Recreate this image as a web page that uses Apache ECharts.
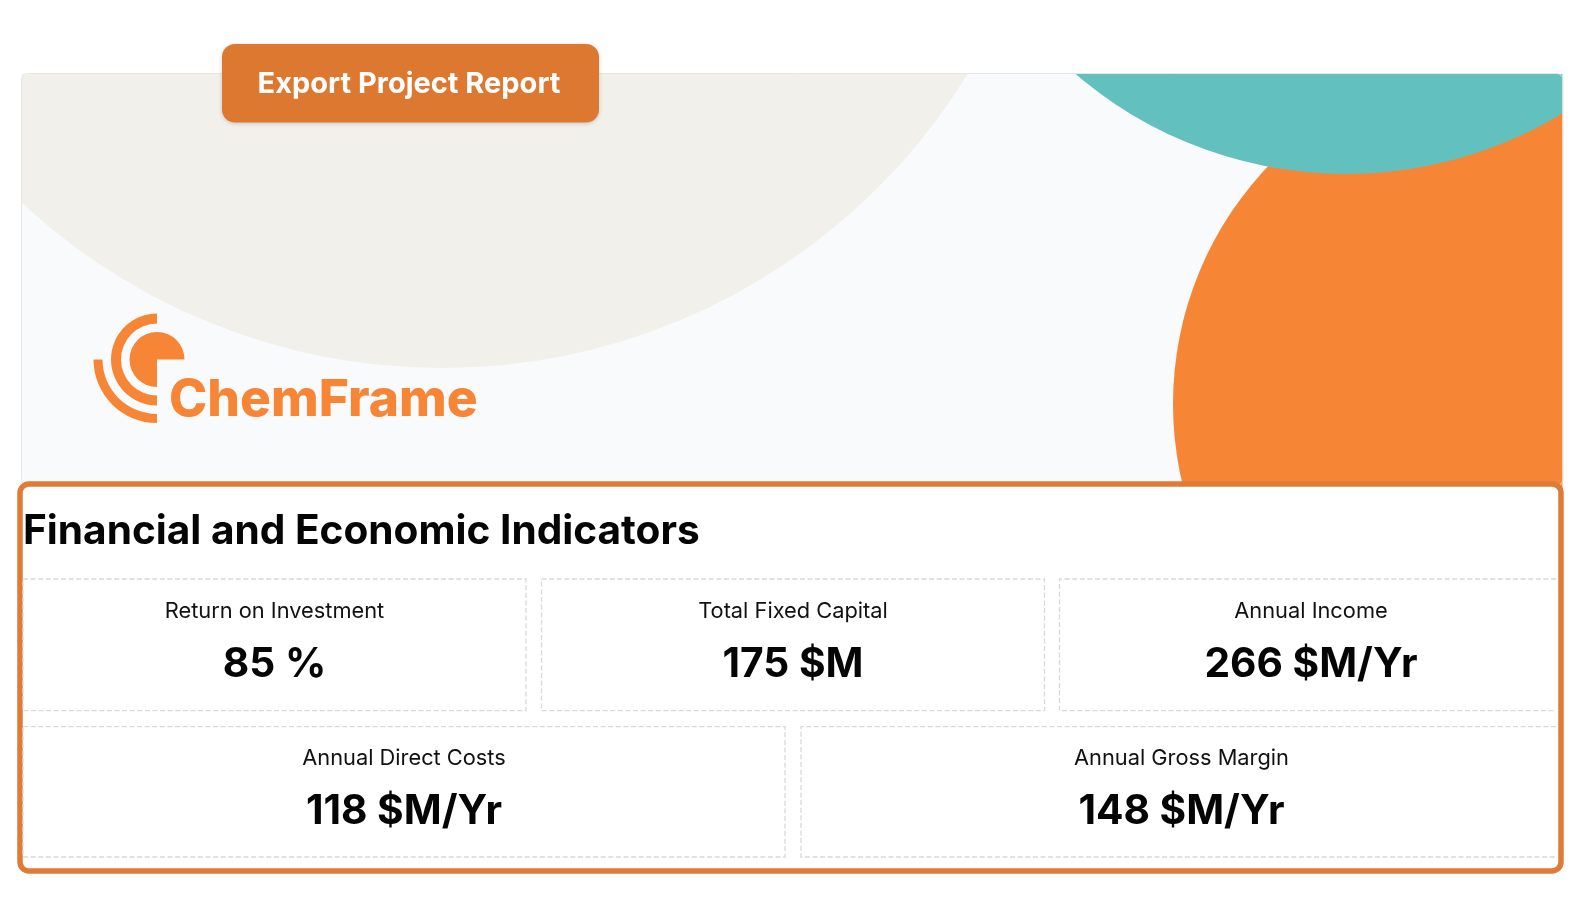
<!DOCTYPE html>
<html><head><meta charset="utf-8">
<style>html,body{margin:0;padding:0;background:#fff}#c{width:1584px;height:921px}</style>
<script src="https://cdn.jsdelivr.net/npm/echarts@6/dist/echarts.min.js"></script>
</head><body><div id="c"></div>
<script>
const buttonLabel = 'Export Project Report';
const brandName = 'ChemFrame';
const panelTitle = 'Financial and Economic Indicators';
const row1Labels = ['Return on Investment', 'Total Fixed Capital', 'Annual Income'];
const row1Values = [85, 175, 266];
const row1Units = ['%', '$M', '$M/Yr'];
const row2Labels = ['Annual Direct Costs', 'Annual Gross Margin'];
const row2Values = [118, 148];
const row2Units = ['$M/Yr', '$M/Yr'];

const FONT = 'Inter, "Noto Sans", sans-serif';
const ORANGE = '#F78536', BORDER = '#DF7B36';
const g = [];
const text = (x, y, t, size, weight, fill, align) => g.push({type:'text', silent:true, style:{
  x, y, text:t, fontSize:size, fontWeight:weight, fontFamily:FONT, fill, textAlign:align||'center', textVerticalAlign:'middle'}});
const circle = (cx, cy, r, fill) => g.push({type:'circle', silent:true, shape:{cx,cy,r}, style:{fill}});
const rect = (x, y, width, height, r, style, extra) => g.push(Object.assign({type:'rect', silent:true, shape:{x,y,width,height,r}, style}, extra||{}));
const sector = (r0, r, a0, a1) => g.push({type:'sector', silent:true,
  shape:{cx:157, cy:359.5, r0, r, startAngle:a0*Math.PI/180, endAngle:a1*Math.PI/180, clockwise:true}, style:{fill:ORANGE}});

// banner
rect(22, 74, 1541, 412, 6, {fill:'#F9FAFB'});
circle(442, -249, 617, '#F1F0EB');
circle(1518, 404, 345, ORANGE);
circle(1346, -242, 416, '#62C1BE');
// masks trim the circles to the banner
rect(0, 0, 1584, 74, 0, {fill:'#fff'});
rect(0, 0, 22, 480, 0, {fill:'#fff'});
rect(1562.5, 0, 21.5, 921, 0, {fill:'#fff'});
rect(21.5, 73.5, 1541.5, 412, 6, {fill:'none', stroke:'#E6E6E6', lineWidth:1});

// logo
sector(0, 27.5, 90, 360);
sector(36, 46, 90, 270);
sector(54.5, 63.5, 90, 180);
text(169, 400.5, brandName, 51.5, 800, ORANGE, 'left');

// button
rect(222, 44, 377, 78.5, 13, {fill:'#DD7830', shadowBlur:4, shadowColor:'rgba(0,0,0,0.18)', shadowOffsetY:1});
text(409, 84, buttonLabel, 29, 700, '#fff');

// panel
rect(20, 484, 1541, 387, 9, {fill:'#fff', stroke:BORDER, lineWidth:5.5});
text(23, 531.5, panelTitle, 40.6, 700, '#050505', 'left');

const card = (x0, x1, y0, y1, label, value, unit, open, cx) => {
  const pts = open ? [[x1,y0],[x0,y0],[x0,y1],[x1,y1]] : [[x0,y0],[x1,y0],[x1,y1],[x0,y1],[x0,y0]];
  g.push({type:'polyline', silent:true, shape:{points:pts}, style:{fill:'none', stroke:'#D9D9D9', lineWidth:1.3, lineDash:[5,2.6]}});
  text(cx, y0+32, label, 21.8, 400, '#111');
  text(cx, y0+85.5, value+' '+unit, 40.7, 700, '#050505');
};
const r1x = [[23,526],[541.5,1044.5],[1059.5,1556]];
row1Labels.forEach((l,i)=>{
  const [a,b]=r1x[i];
  card(a,b,579,710.7,l,row1Values[i],row1Units[i],i===2,a+251.5);
});
const r2x = [[23,785],[801,1556]];
row2Labels.forEach((l,i)=>{
  const [a,b]=r2x[i];
  card(a,b,726.7,857,l,row2Values[i],row2Units[i],i===1,i===1?1181.5:404);
});

const chart = echarts.init(document.getElementById('c'), null, {renderer:'canvas'});
chart.setOption({animation:false, backgroundColor:'#fff', graphic:{elements:g}});
</script></body></html>
